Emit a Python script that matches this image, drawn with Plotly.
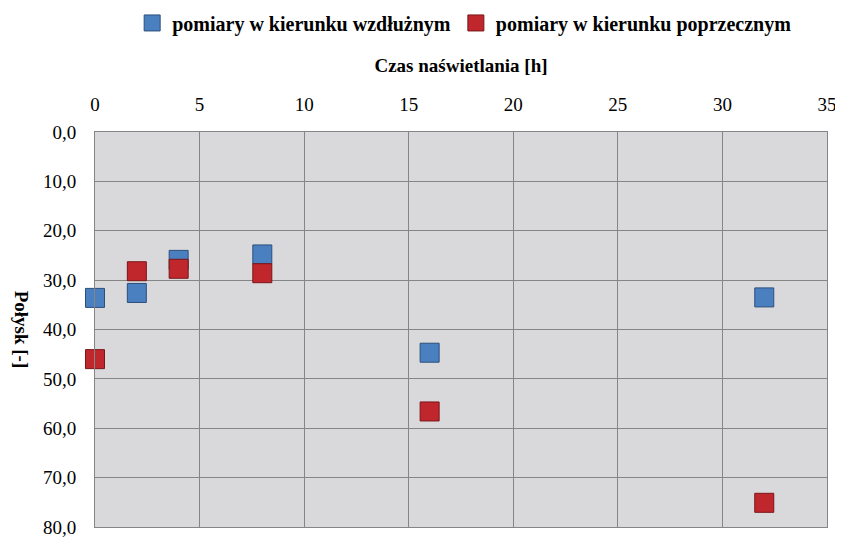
import plotly.graph_objects as go

czas_h = [0, 2, 4, 8, 16, 32]
wzdluz = [33.6, 32.6, 25.9, 24.8, 44.7, 33.5]
poprzek = [46.0, 28.2, 27.7, 28.6, 56.6, 75.1]
x_ticks = [0, 5, 10, 15, 20, 25, 30, 35]
y_ticks = [0, 10, 20, 30, 40, 50, 60, 70, 80]

serif = "Times New Roman, Tinos, DejaVu Serif, serif"

fig = go.Figure()
fig.add_trace(go.Scatter(
    x=czas_h, y=wzdluz, mode="markers", name="pomiary w kierunku wzdłużnym",
    cliponaxis=False,
    marker=dict(symbol="square", size=19, color="#4a7fc0",
                line=dict(color="#2c4f7c", width=1))))
fig.add_trace(go.Scatter(
    x=czas_h, y=poprzek, mode="markers", name="pomiary w kierunku poprzecznym",
    cliponaxis=False,
    marker=dict(symbol="square", size=19, color="#c0272d",
                line=dict(color="#7a1518", width=1))))

fig.update_layout(
    width=835, height=534,
    margin=dict(l=87, r=16, t=124, b=15, autoexpand=False),
    paper_bgcolor="white", plot_bgcolor="#d9d9db",
    separators=", ",
    font=dict(family=serif, size=19, color="black"),
    showlegend=True,
    legend=dict(orientation="h", x=0.505, xanchor="center", xref="paper",
                y=0.972, yref="container", yanchor="middle",
                font=dict(family=serif, size=20, color="black", weight="bold"),
                itemwidth=30, tracegroupgap=0, bgcolor="rgba(0,0,0,0)"),
    xaxis=dict(range=[0, 35], tickvals=x_ticks, side="top", automargin=False,
               showgrid=True, gridcolor="#858585", gridwidth=1,
               zeroline=False, showline=True, linecolor="#858585", mirror=True,
               ticks="", ticklabelstandoff=12,
               tickfont=dict(family=serif, size=19),
               title=dict(text="Czas naświetlania [h]",
                          font=dict(family=serif, size=19, weight="bold"),
                          standoff=16)),
    yaxis=dict(range=[80, 0], tickvals=y_ticks, tickformat=".1f", automargin=False,
               showgrid=True, gridcolor="#858585", gridwidth=1,
               zeroline=False, showline=True, linecolor="#858585", mirror=True,
               ticks="", ticklabelstandoff=14,
               tickfont=dict(family=serif, size=19)),
)

fig.add_annotation(text="<b>Połysk [-]</b>", textangle=90,
                   xref="paper", yref="paper", x=-0.1, y=0.5,
                   xanchor="center", yanchor="middle", showarrow=False,
                   font=dict(family=serif, size=19, color="black"))

fig.write_html("out.html")
